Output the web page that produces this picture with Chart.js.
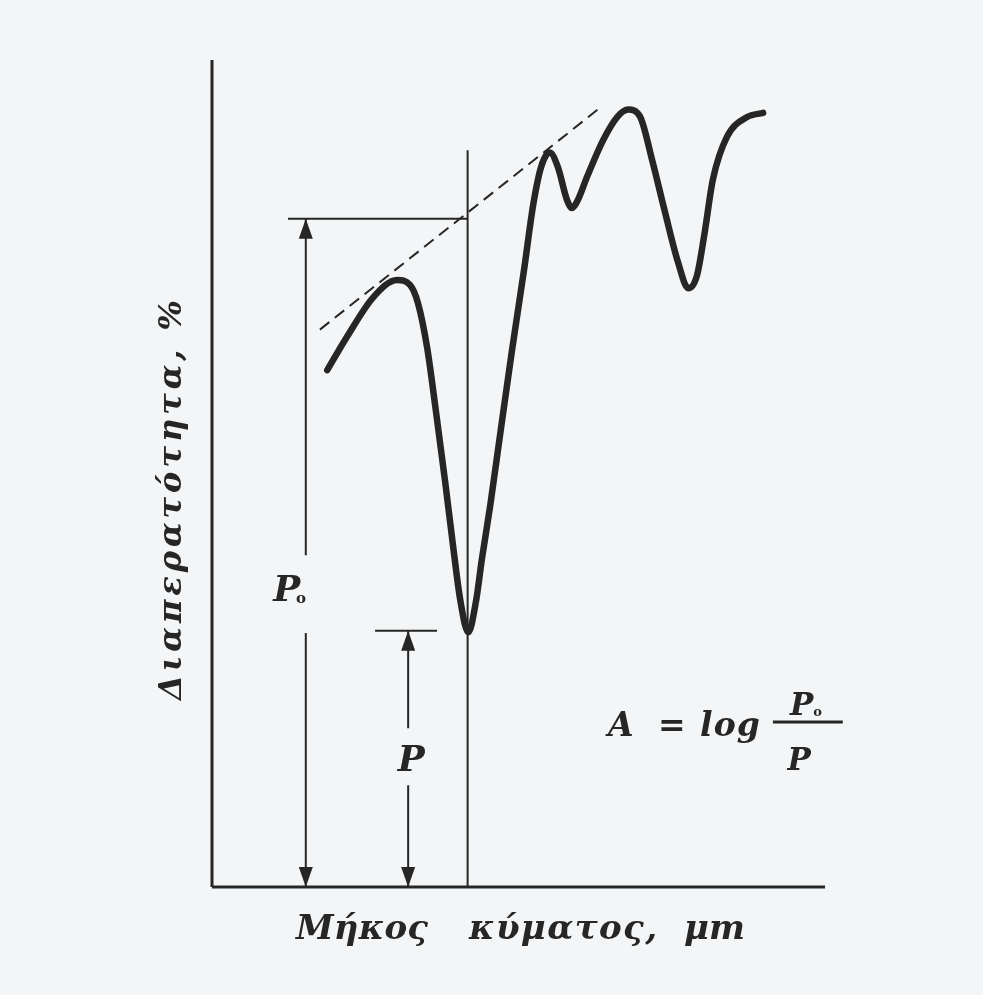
<!DOCTYPE html>
<html lang="el">
<head>
<meta charset="UTF-8">
<title>Διαπερατότητα - μέθοδος γραμμής βάσης</title>
<script src="https://cdn.jsdelivr.net/npm/chart.js"></script>
<style>
  body { margin: 0; background: #f3f5f6; }
  #wrap { width: 983px; height: 995px; }
</style>
</head>
<body>
<div id="wrap"><canvas id="spectre" width="983" height="995"></canvas></div>

<script>
// courbe d'absorption (longueur d'onde en unités arbitraires, transmittance %)
const mikos = [1.88, 2.20, 2.63, 3.02, 3.23, 3.36, 3.51, 3.65, 3.80, 3.93, 4.05, 4.18, 4.31, 4.40,
               4.54, 4.70, 4.89, 5.09, 5.24, 5.37, 5.51, 5.64, 5.79, 5.87, 5.97, 6.12, 6.38, 6.61,
               6.79, 6.98, 7.18, 7.39, 7.60, 7.77, 7.91, 8.03, 8.17, 8.40, 8.73, 8.99];
const diaperatotita = [62.5, 66.5, 71.3, 73.4, 72.8, 70.6, 65.2, 57.7, 49.2, 41.4, 34.7, 30.8, 34.7, 39.5,
                       46.2, 54.7, 64.7, 74.6, 82.5, 87.1, 88.8, 87.1, 83.1, 82.1, 83.1, 85.9, 90.3, 93.1,
                       94.0, 93.2, 87.9, 81.6, 75.6, 72.4, 73.9, 78.8, 85.5, 90.7, 93.1, 93.6];

// ligne de base (tangente) et construction
const tangenteX = [1.76, 6.36];
const tangenteY = [67.4, 94.4];
const xPic = 4.17;          // position du minimum
const yP0 = 80.8;           // niveau P0
const yP = 31.0;            // niveau P
const xFlecheP0 = 1.53;
const xFlecheP = 3.20;
const trouP0 = [40.1, 30.7];  // coupure pour l'étiquette P0
const trouP = [19.2, 12.3];   // coupure pour l'étiquette P

const couleur = '#262626';

function ligne(xs, ys, epais, tirets) {
    return {
        data: xs.map((x, i) => ({x: x, y: ys[i]})),
        showLine: true,
        borderColor: couleur,
        borderWidth: epais,
        borderDash: tirets || [],
        pointRadius: 0,
        tension: 0,
        clip: false
    };
}

const datasets = [
    ligne([0, 0], [0, 100], 3),                         // axe y
    ligne([0, 10], [0, 0], 3),                          // axe x
    ligne([xPic, xPic], [0, 89.1], 2),                  // verticale au pic
    ligne([1.24, xPic], [yP0, yP0], 2),                 // horizontale P0
    ligne(tangenteX, tangenteY, 2, [12, 7]),            // tangente
    ligne([xFlecheP0, xFlecheP0], [yP0, trouP0[0]], 2),
    ligne([xFlecheP0, xFlecheP0], [trouP0[1], 0], 2),
    ligne([2.66, 3.67], [yP, yP], 2),                   // trait P
    ligne([xFlecheP, xFlecheP], [yP, trouP[0]], 2),
    ligne([xFlecheP, xFlecheP], [trouP[1], 0], 2),
    Object.assign(ligne(mikos, diaperatotita, 6.5), {
        cubicInterpolationMode: 'monotone', borderCapStyle: 'round', borderJoinStyle: 'round'
    })
];

// pointes de flèches : [x, y, direction]
const fleches = [[xFlecheP0, yP0, 'haut'], [xFlecheP0, 0, 'bas'], [xFlecheP, yP, 'haut'], [xFlecheP, 0, 'bas']];

function texteEspace(ctx, txt, x, y, largeur) {
    // dessine le texte en répartissant les lettres sur la largeur voulue
    const lettres = Array.from(txt);
    const brut = lettres.reduce((s, c) => s + ctx.measureText(c).width, 0);
    const esp = lettres.length > 1 ? (largeur - brut) / (lettres.length - 1) : 0;
    let cx = x;
    ctx.textAlign = 'left';
    lettres.forEach(c => { ctx.fillText(c, cx, y); cx += ctx.measureText(c).width + esp; });
}

const annotations = {
    id: 'annotations',
    afterDatasetsDraw(chart) {
        const ctx = chart.ctx;
        const sx = chart.scales.x, sy = chart.scales.y;
        ctx.save();
        ctx.fillStyle = couleur;

        fleches.forEach(([x, y, dir]) => {
            const px = sx.getPixelForValue(x), py = sy.getPixelForValue(y);
            const s = dir === 'haut' ? 1 : -1;
            ctx.beginPath();
            ctx.moveTo(px, py);
            ctx.lineTo(px - 7, py + s * 20);
            ctx.lineTo(px + 7, py + s * 20);
            ctx.closePath();
            ctx.fill();
        });

        const serif = "'DejaVu Serif', 'Liberation Serif', serif";

        // P0 et P
        ctx.textBaseline = 'alphabetic';
        ctx.textAlign = 'center';
        ctx.font = "bold italic 36px " + serif;
        ctx.fillText('P', sx.getPixelForValue(1.22), sy.getPixelForValue(34.6));
        ctx.fillText('P', sx.getPixelForValue(3.25), sy.getPixelForValue(14.0));
        ctx.font = "bold 15px " + serif;
        ctx.fillText('o', sx.getPixelForValue(1.45), sy.getPixelForValue(34.3));

        // formule A = log P0/P
        const yBase = sy.getPixelForValue(18.3);
        ctx.font = "bold italic 33px " + serif;
        ctx.textAlign = 'left';
        ctx.fillText('A', sx.getPixelForValue(6.46), yBase);
        ctx.textAlign = 'center';
        ctx.fillText('=', sx.getPixelForValue(7.50), yBase);
        texteEspace(ctx, 'log', sx.getPixelForValue(7.96), yBase, 60);
        ctx.font = "bold italic 31px " + serif;
        ctx.textAlign = 'center';
        ctx.fillText('P', sx.getPixelForValue(9.62), sy.getPixelForValue(20.8));
        ctx.fillText('P', sx.getPixelForValue(9.58), sy.getPixelForValue(14.1));
        ctx.font = "bold 13px " + serif;
        ctx.fillText('o', sx.getPixelForValue(9.88), sy.getPixelForValue(20.7));
        ctx.fillRect(sx.getPixelForValue(9.15), sy.getPixelForValue(19.95) - 1.5, sx.getPixelForValue(10.29) - sx.getPixelForValue(9.15), 3);

        // titres des axes
        ctx.font = "bold italic 34px " + serif;
        texteEspace(ctx, 'Μήκος', 296, 939, 132);
        texteEspace(ctx, 'κύματος,', 469, 939, 188);
        ctx.textAlign = 'left';
        ctx.fillText('μm', 684, 939);

        ctx.translate(181, 700);
        ctx.rotate(-Math.PI / 2);
        ctx.font = "bold italic 32px " + serif;
        texteEspace(ctx, 'Διαπερατότητα, %', 0, 0, 400);
        ctx.restore();
    }
};

new Chart(document.getElementById('spectre'), {
    type: 'scatter',
    data: { datasets: datasets },
    options: {
        responsive: false,
        animation: false,
        devicePixelRatio: 1,
        layout: { padding: { left: 212, right: 158, top: 60, bottom: 108 } },
        plugins: { legend: { display: false }, tooltip: { enabled: false } },
        scales: {
            x: { type: 'linear', min: 0, max: 10, display: false },
            y: { type: 'linear', min: 0, max: 100, display: false }
        }
    },
    plugins: [annotations]
});
</script>
</body>
</html>
